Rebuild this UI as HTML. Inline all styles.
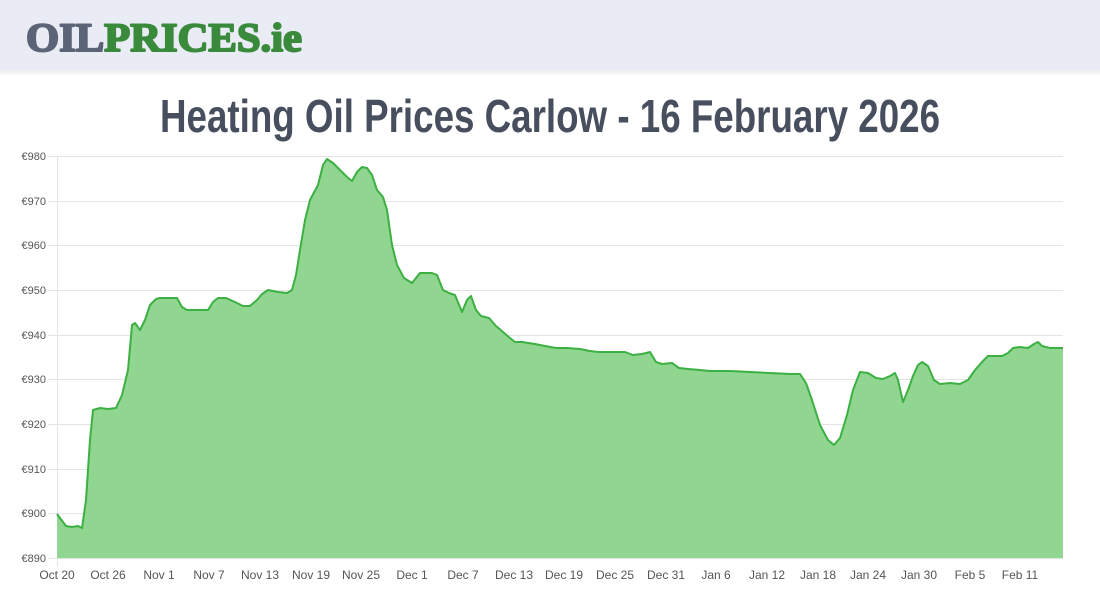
<!DOCTYPE html>
<html><head><meta charset="utf-8"><style>
html,body{margin:0;padding:0;background:#fff;width:1100px;height:600px;overflow:hidden}
</style></head><body>
<svg width="1100" height="600" viewBox="0 0 1100 600" xmlns="http://www.w3.org/2000/svg" font-family="Liberation Sans, Arial, sans-serif">
<defs><linearGradient id="sh" x1="0" y1="0" x2="0" y2="1"><stop offset="0" stop-color="#000" stop-opacity="0.08"/><stop offset="1" stop-color="#000" stop-opacity="0"/></linearGradient></defs>
<rect x="0" y="0" width="1100" height="70" fill="#e9ecf4"/>
<rect x="0" y="70" width="1100" height="6" fill="url(#sh)"/>
<text x="26" y="51" font-family="Liberation Serif, serif" font-weight="bold" font-size="40" textLength="276" lengthAdjust="spacingAndGlyphs" stroke-width="2" stroke-linejoin="round"><tspan fill="#5b6477" stroke="#5b6477">OIL</tspan><tspan fill="#3a8a3c" stroke="#3a8a3c">PRICES.ie</tspan></text>
<text x="550" y="132" text-anchor="middle" font-size="46" font-weight="bold" fill="#474e5d" textLength="780" lengthAdjust="spacingAndGlyphs">Heating Oil Prices Carlow - 16 February 2026</text>
<g stroke="#e4e4e4" stroke-width="1">
<line x1="48" y1="156.5" x2="1063" y2="156.5"/><line x1="48" y1="201.5" x2="1063" y2="201.5"/><line x1="48" y1="245.5" x2="1063" y2="245.5"/><line x1="48" y1="290.5" x2="1063" y2="290.5"/><line x1="48" y1="335.5" x2="1063" y2="335.5"/><line x1="48" y1="379.5" x2="1063" y2="379.5"/><line x1="48" y1="424.5" x2="1063" y2="424.5"/><line x1="48" y1="469.5" x2="1063" y2="469.5"/><line x1="48" y1="513.5" x2="1063" y2="513.5"/><line x1="48" y1="558.5" x2="1063" y2="558.5"/>
<line x1="57.5" y1="156" x2="57.5" y2="566"/>
</g>
<g font-size="11" fill="#555" text-anchor="end">
<text x="46" y="160">€980</text><text x="46" y="205">€970</text><text x="46" y="249">€960</text><text x="46" y="294">€950</text><text x="46" y="339">€940</text><text x="46" y="383">€930</text><text x="46" y="428">€920</text><text x="46" y="473">€910</text><text x="46" y="517">€900</text><text x="46" y="562">€890</text>
</g>
<g font-size="12" fill="#555" text-anchor="middle">
<text x="57" y="579">Oct 20</text><text x="108" y="579">Oct 26</text><text x="159" y="579">Nov 1</text><text x="209" y="579">Nov 7</text><text x="260" y="579">Nov 13</text><text x="311" y="579">Nov 19</text><text x="361" y="579">Nov 25</text><text x="412" y="579">Dec 1</text><text x="463" y="579">Dec 7</text><text x="514" y="579">Dec 13</text><text x="564" y="579">Dec 19</text><text x="615" y="579">Dec 25</text><text x="666" y="579">Dec 31</text><text x="716" y="579">Jan 6</text><text x="767" y="579">Jan 12</text><text x="818" y="579">Jan 18</text><text x="868" y="579">Jan 24</text><text x="919" y="579">Jan 30</text><text x="970" y="579">Feb 5</text><text x="1020" y="579">Feb 11</text>
</g>
<path fill="#90d590" stroke="none" d="M57,514 L66,526 L72,527 L78,526 L82,528 L86,500 L90,440 L93,410 L100,408 L108,409 L116,408 L122,395 L128,370 L132,325 L135,323 L140,330 L145,320 L150,305 L156,299 L160,298 L170,298 L177,298 L182,307 L187,310 L195,310 L208,310 L213,302 L218,298 L226,298 L235,302 L243,306 L250,306 L257,300 L262,294 L268,290 L278,292 L287,293 L292,290 L296,275 L300,250 L305,220 L310,200 L318,185 L323,165 L327,159 L333,163 L340,170 L347,177 L352,181 L357,172 L362,167 L367,168 L372,175 L377,190 L383,197 L387,210 L392,245 L397,265 L404,278 L412,283 L420,273 L425,273 L432,273 L437,275 L443,290 L449,293 L455,295 L462,312 L467,300 L471,296 L476,310 L481,316 L489,318 L496,326 L503,332 L510,338 L515,342 L522,342 L535,344 L545,346 L556,348 L567,348 L580,349 L590,351 L598,352 L615,352 L625,352 L633,355 L642,354 L650,352 L656,362 L662,364 L672,363 L679,368 L688,369 L700,370 L710,371 L730,371 L750,372 L770,373 L790,374 L800,374 L806,383 L812,400 L820,425 L828,440 L834,445 L840,438 L847,415 L853,390 L860,372 L868,373 L876,378 L883,379 L890,376 L895,373 L898,380 L903,402 L908,390 L913,376 L918,365 L922,362 L928,366 L934,380 L940,384 L950,383 L960,384 L968,380 L975,370 L982,362 L988,356 L994,356 L1002,356 L1008,353 L1013,348 L1020,347 L1028,348 L1034,344 L1038,342 L1042,346 L1050,348 L1063,348 L1063,558 L57,558 Z"/>
<polyline fill="none" stroke="#3cb043" stroke-width="2" stroke-linejoin="round" points="57,514 66,526 72,527 78,526 82,528 86,500 90,440 93,410 100,408 108,409 116,408 122,395 128,370 132,325 135,323 140,330 145,320 150,305 156,299 160,298 170,298 177,298 182,307 187,310 195,310 208,310 213,302 218,298 226,298 235,302 243,306 250,306 257,300 262,294 268,290 278,292 287,293 292,290 296,275 300,250 305,220 310,200 318,185 323,165 327,159 333,163 340,170 347,177 352,181 357,172 362,167 367,168 372,175 377,190 383,197 387,210 392,245 397,265 404,278 412,283 420,273 425,273 432,273 437,275 443,290 449,293 455,295 462,312 467,300 471,296 476,310 481,316 489,318 496,326 503,332 510,338 515,342 522,342 535,344 545,346 556,348 567,348 580,349 590,351 598,352 615,352 625,352 633,355 642,354 650,352 656,362 662,364 672,363 679,368 688,369 700,370 710,371 730,371 750,372 770,373 790,374 800,374 806,383 812,400 820,425 828,440 834,445 840,438 847,415 853,390 860,372 868,373 876,378 883,379 890,376 895,373 898,380 903,402 908,390 913,376 918,365 922,362 928,366 934,380 940,384 950,383 960,384 968,380 975,370 982,362 988,356 994,356 1002,356 1008,353 1013,348 1020,347 1028,348 1034,344 1038,342 1042,346 1050,348 1063,348"/>
</svg>
</body></html>
